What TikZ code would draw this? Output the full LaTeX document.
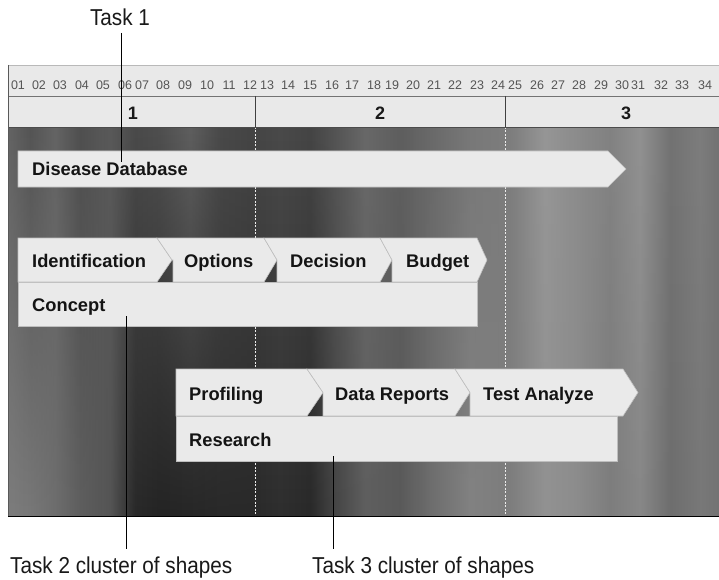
\documentclass[tikz,border=0pt]{standalone}
\usepackage{fontspec}
\setmainfont{Liberation Sans}
\newfontfamily\callfont[FakeStretch=0.9]{Liberation Sans}
\usetikzlibrary{fadings}
\tikzfading[name=fadeup, top color=transparent!100, bottom color=transparent!0]
\pgfdeclarehorizontalshading{bgtop}{100bp}{color(0bp)=(black!61); color(25bp)=(black!61);
  color(26.55bp)=(black!67); color(28.31bp)=(black!61); color(30.06bp)=(black!69);
  color(32.17bp)=(black!65); color(33.93bp)=(black!71); color(35.69bp)=(black!69);
  color(37.80bp)=(black!63); color(39.91bp)=(black!71); color(42.02bp)=(black!73);
  color(44.13bp)=(black!71); color(46.24bp)=(black!73); color(47.99bp)=(black!67);
  color(50.11bp)=(black!59); color(52.57bp)=(black!63); color(54.68bp)=(black!59);
  color(57.49bp)=(black!53); color(60.30bp)=(black!51); color(62.76bp)=(black!41);
  color(64.87bp)=(black!45); color(67.33bp)=(black!49); color(69.44bp)=(black!43);
  color(71.55bp)=(black!55); color(73.66bp)=(black!51); color(75bp)=(black!55);
  color(100bp)=(black!55)}
\pgfdeclarehorizontalshading{bgbot}{100bp}{color(0bp)=(black!51); color(25bp)=(black!51);
  color(26.55bp)=(black!53); color(28.31bp)=(black!57); color(30.06bp)=(black!63);
  color(32.17bp)=(black!67); color(33.93bp)=(black!84); color(35.69bp)=(black!86);
  color(37.80bp)=(black!85); color(39.91bp)=(black!84); color(42.02bp)=(black!84);
  color(44.13bp)=(black!82); color(46.24bp)=(black!84); color(47.99bp)=(black!73);
  color(50.11bp)=(black!63); color(52.57bp)=(black!65); color(54.68bp)=(black!57);
  color(57.49bp)=(black!49); color(60.30bp)=(black!51); color(62.76bp)=(black!43);
  color(64.87bp)=(black!45); color(67.33bp)=(black!51); color(69.44bp)=(black!47);
  color(71.55bp)=(black!57); color(73.66bp)=(black!53); color(75bp)=(black!55);
  color(100bp)=(black!55)}
\definecolor{boxfill}{RGB}{234,234,234}
\definecolor{boxline}{RGB}{190,190,190}
\definecolor{rulerfill}{RGB}{233,233,233}
\definecolor{rulertext}{RGB}{85,85,85}
\tikzset{
  boxst/.style={fill=boxfill, draw=boxline, line width=0.6pt, line join=miter},
  lbl/.style={anchor=base west, inner sep=0pt, font=\fontsize{18.3}{21}\selectfont\bfseries, text=black!92},
  rulenum/.style={inner sep=0pt, font=\fontsize{12.5}{14}\selectfont, text=rulertext},
  pernum/.style={inner sep=0pt, anchor=base, font=\fontsize{18}{20}\selectfont\bfseries, text=black!90},
  calltxt/.style={inner sep=0pt, font=\callfont\fontsize{23}{26}\selectfont, text=black!90},
  callline/.style={draw=black, line width=0.9pt},
  perline/.style={draw=white!85!gray, line width=0.9pt, dash pattern=on 2pt off 1.5pt}
}
\begin{document}
\begin{tikzpicture}[x=1pt,y=-1pt]
\useasboundingbox (0,0) rectangle (719,580);
\fill[white] (0,0) rectangle (719,580);
% ---------- background streaks ----------
\shade[shading=bgtop] (8,127) rectangle (719,516);
\shade[shading=bgbot, path fading=fadeup] (8,127) rectangle (719,516);
% period separators in chart area
\draw[perline] (255,127) -- (255,516);
\draw[perline] (505,127) -- (505,516);
% ---------- ruler ----------
\fill[rulerfill] (8,65) rectangle (719,127);
\draw[gray!55] (8,65) -- (719,65);
\draw[black!55] (8,96) -- (719,96);
\draw[black!75] (255,96) -- (255,127);
\draw[black!75] (505,96) -- (505,127);
\draw[black!70] (8,127) -- (719,127);
\draw[black!65] (8,65) -- (8,516);
\draw[black, line width=0.9pt] (8,516) -- (719,516);
\foreach \n/\x in {01/18,02/39,03/60,04/82,05/103,06/125,07/142,08/163,09/185,10/207,
  11/229,12/250,13/267,14/288,15/310,16/332,17/352,18/374,19/392,20/413,21/434,22/455,
  23/477,24/498,25/515,26/537,27/558,28/579,29/601,30/622,31/638,32/661,33/682,34/705}
  \node[rulenum] (m\n) at (\x,85.5) {\n};
\node[pernum] (p1) at (133,120) {1};
\node[pernum] (p2) at (380,120) {2};
\node[pernum] (p3) at (626,120) {3};
% ---------- task 1 ----------
\path[boxst] (18,151) -- (608,151) -- (626,169) -- (608,187) -- (18,187) -- cycle;
\node[lbl] (dd) at (32,175.5) {Disease Database};
% ---------- task 2 ----------
\path[boxst] (18,282) rectangle (477,326);
\path[boxst] (18,238) -- (157,238) -- (172,260) -- (157,282) -- (18,282) -- cycle;
\path[boxst] (157,238) -- (264,238) -- (277,260) -- (264,282) -- (173,282) -- (173,260) -- (172,260) -- cycle;
\path[boxst] (264,238) -- (380,238) -- (392,260) -- (380,282) -- (277,282) -- (277,260) -- cycle;
\path[boxst] (380,238) -- (477,238) -- (487,260) -- (477,282) -- (392,282) -- (392,260) -- cycle;
\node[lbl] (ident) at (32,267) {Identification};
\node[lbl] (opt) at (184,267) {Options};
\node[lbl] (dec) at (290,267) {Decision};
\node[lbl] (bud) at (406,267) {Budget};
\node[lbl] (con) at (32,311) {Concept};
% ---------- task 3 ----------
\path[boxst] (176,416) rectangle (617,461);
\path[boxst] (176,369) -- (307,369) -- (323,392.5) -- (307,416) -- (176,416) -- cycle;
\path[boxst] (307,369) -- (455,369) -- (470,392.5) -- (455,416) -- (323,416) -- (323,392.5) -- cycle;
\path[boxst] (455,369) -- (623,369) -- (638,392.5) -- (623,416) -- (470,416) -- (470,392.5) -- cycle;
\node[lbl] (prof) at (189,400) {Profiling};
\node[lbl] (datr) at (335,400) {Data Reports};
\node[lbl] (test) at (483,400) {Test Analyze};
\node[lbl] (res) at (189,446) {Research};
% ---------- callouts ----------
\node[calltxt, anchor=base] (task1) at (120,26) {Task 1};
\node[calltxt, anchor=base west] (task2) at (10,573) {Task 2 cluster of shapes};
\node[calltxt, anchor=base west] (task3) at (312,573) {Task 3 cluster of shapes};
\coordinate (t1a) at (121,33);  \coordinate (t1b) at (121,162);
\coordinate (t2a) at (126,316); \coordinate (t2b) at (126,549);
\coordinate (t3a) at (333,456); \coordinate (t3b) at (333,549);
\draw[callline] (t1a) -- (t1b);
\draw[callline] (t2a) -- (t2b);
\draw[callline] (t3a) -- (t3b);
\end{tikzpicture}
\end{document}
